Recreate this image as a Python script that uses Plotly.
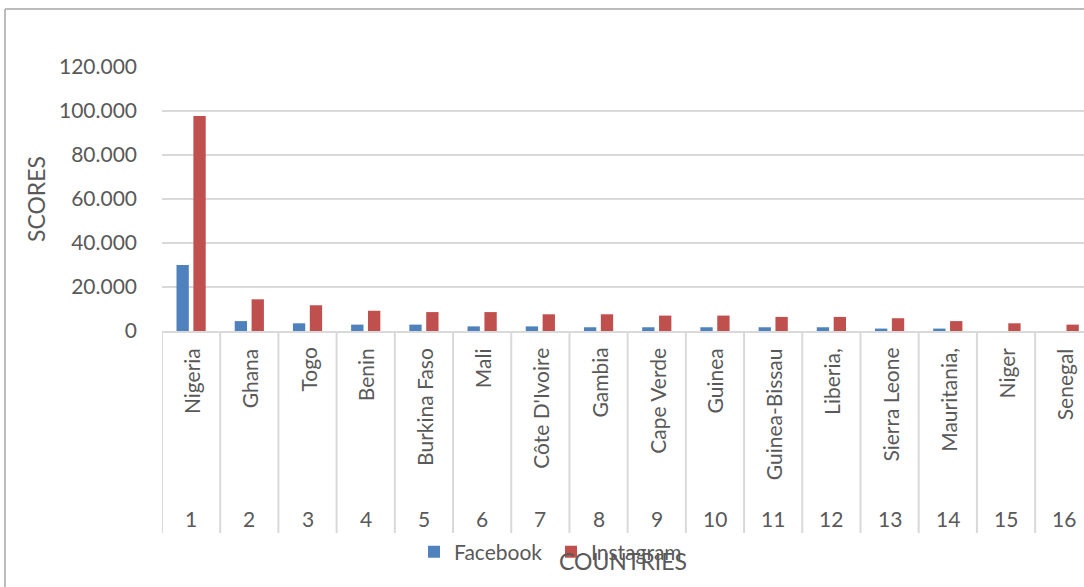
import plotly.graph_objects as go

# Countries ranked along the category axis, with their rank numbers
countries = ["Nigeria", "Ghana", "Togo", "Benin", "Burkina Faso", "Mali",
             "Côte D'Ivoire", "Gambia", "Cape Verde", "Guinea", "Guinea-Bissau",
             "Liberia,", "Sierra Leone", "Mauritania,", "Niger", "Senegal"]
ranks = [1, 2, 3, 4, 5, 6, 7, 8, 9, 10, 11, 12, 13, 14, 15, 16]

# Scores per platform
facebook = [30000, 4500, 3500, 2900, 2900, 2100, 2100, 1700, 1700, 1700,
            1700, 1700, 1100, 1100, 0, 0]
instagram = [97700, 14400, 11700, 9200, 8600, 8600, 7600, 7600, 7000, 7000,
             6400, 6400, 5800, 4500, 3500, 2900]

y_ticks = [0, 20000, 40000, 60000, 80000, 100000, 120000]

FONT = "Lato"
TXT = "#595959"
GRID = "#d9d9d9"
FS = 21
TS = 23

fig = go.Figure()
fig.add_trace(go.Bar(name="Facebook", x=ranks, y=facebook, marker_color="#4F81BD"))
fig.add_trace(go.Bar(name="Instagram", x=ranks, y=instagram, marker_color="#C0504D"))

W, H = 1084, 587
L, R, T, B = 162, 0, 67, 256
pw, ph = W - L - R, H - T - B


def px_x(px):
    return (px - L) / pw


def px_y(py):
    return (H - B - py) / ph


shapes = []
# category dividers below the axis
for k in range(len(ranks) + 1):
    shapes.append(dict(type="line", xref="x", yref="paper",
                       x0=ranks[0] - 0.5 + k, x1=ranks[0] - 0.5 + k,
                       y0=0, y1=px_y(533), line=dict(color=GRID, width=2)))
# chart frame
shapes.append(dict(type="line", xref="paper", yref="paper",
                   x0=px_x(5), x1=px_x(1100), y0=px_y(9), y1=px_y(9),
                   line=dict(color="#a6a6a6", width=1.5)))
shapes.append(dict(type="line", xref="paper", yref="paper",
                   x0=px_x(5), x1=px_x(5), y0=px_y(9), y1=px_y(600),
                   line=dict(color="#a6a6a6", width=1.5)))

annotations = []
for r, c in zip(ranks, countries):
    annotations.append(dict(x=r, y=px_y(346), xref="x", yref="paper", text=c,
                            textangle=-90, showarrow=False, xanchor="center",
                            yanchor="top", font=dict(family=FONT, size=FS, color=TXT)))
    annotations.append(dict(x=r, y=px_y(518), xref="x", yref="paper", text=str(r),
                            showarrow=False, xanchor="center", yanchor="middle",
                            font=dict(family=FONT, size=FS, color=TXT)))

fig.update_layout(
    width=W, height=H, autosize=False,
    template="none",
    margin=dict(l=L, r=R, t=T, b=B, pad=0),
    paper_bgcolor="white", plot_bgcolor="white",
    barmode="group", bargap=0.42, bargroupgap=0.27,
    font=dict(family=FONT, size=FS, color=TXT),
    shapes=shapes, annotations=annotations,
    showlegend=True,
    legend=dict(orientation="h", x=px_x(414), y=px_y(552), xanchor="left",
                yanchor="middle", font=dict(family=FONT, size=FS, color=TXT),
                entrywidth=92, entrywidthmode="pixels",
                bgcolor="rgba(0,0,0,0)", itemclick=False),
    separators=",.",
)
fig.update_xaxes(
    range=[0.5, 16.34], showticklabels=False, ticks="", showgrid=False,
    zeroline=False, showline=True, linecolor=GRID, linewidth=2,
    automargin=False,
    title=dict(text="COUNTRIES", font=dict(family=FONT, size=TS, color=TXT), standoff=222),
)
fig.update_yaxes(
    range=[0, 120000], tickvals=y_ticks, tickformat=",d",
    showgrid=True, gridcolor=GRID, gridwidth=2, zeroline=False,
    showline=False, ticks="", ticklabelstandoff=24, automargin=False,
    tickfont=dict(family=FONT, size=FS, color=TXT),
    title=dict(text="SCORES", font=dict(family=FONT, size=TS, color=TXT), standoff=6),
)

fig.write_html("out.html")
